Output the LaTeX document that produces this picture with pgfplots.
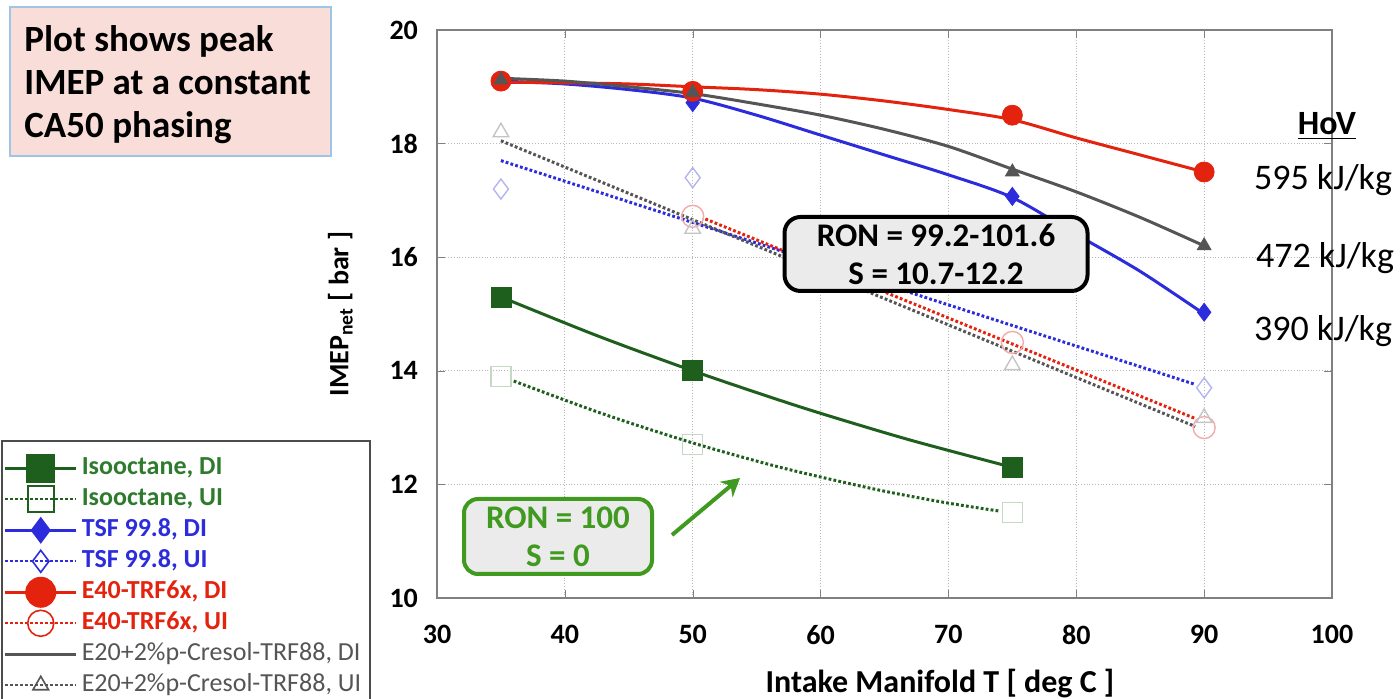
\documentclass[border=0pt]{standalone}
\usepackage{fontspec}
\setmainfont{Carlito}
\usepackage{pgfplots}
\pgfplotsset{compat=1.18}
\usetikzlibrary{arrows.meta}

\definecolor{isogreen}{HTML}{1E5F1E}
\definecolor{isotext}{HTML}{2E7B2E}
\definecolor{tsfblue}{HTML}{2C2CDC}
\definecolor{e40red}{HTML}{E4230F}
\definecolor{e20gray}{HTML}{555555}
\definecolor{lgreen}{HTML}{C4D8C4}
\definecolor{lblue}{HTML}{B4B4F0}
\definecolor{lred}{HTML}{F2AAAA}
\definecolor{lgray}{HTML}{C4C4C4}
\definecolor{annogreen}{HTML}{3F9A1F}
\definecolor{pinkfill}{HTML}{F8DDD8}
\definecolor{boxblue}{HTML}{9DC6E6}
\definecolor{boxgray}{HTML}{EBEBEB}

\tikzset{uidots/.style={line width=1.5pt, dash pattern=on 1.4pt off 1.1pt}}

\begin{document}
\begin{tikzpicture}
\useasboundingbox (0,0) rectangle (700pt,349.5pt);
\begin{axis}[
  at={(218.5pt,50.5pt)}, anchor=south west,
  scale only axis, width=447.5pt, height=284pt,
  xmin=30, xmax=100, ymin=10, ymax=20,
  xtick={30,40,...,100}, ytick={10,12,...,20},
  grid=major, major grid style={densely dotted, black!28},
  axis line style={black!50, line width=0.6pt},
  tick style={black!50}, tick align=inside, major tick length=4pt,
  /pgf/number format/assume math mode=true,
  tick label style={font=\fontsize{14}{16}\selectfont\bfseries},
  xticklabel style={yshift=-10pt},
  yticklabel style={xshift=-6pt},
  xlabel={Intake Manifold T [ deg C ]},
  ylabel={IMEP\textsubscript{net} [ bar ]},
  xlabel style={font=\fontsize{16}{18}\selectfont\bfseries, at={(axis description cs:0.562,-0.150)}, anchor=center},
  ylabel style={font=\fontsize{14}{16}\selectfont\bfseries, at={(axis description cs:-0.108,0.5)}, anchor=center},
  clip=false,
  legend cell align=left,
  legend style={at={(axis description cs:-0.4872,0.2782)}, anchor=north west,
    draw=black!70, line width=0.8pt, inner xsep=1.5pt, inner ysep=7.5pt, row sep=3pt,
    font=\fontsize{13}{15}\selectfont,
    nodes={inner ysep=0pt, inner xsep=3pt, text height=9.5pt, text depth=3pt}},
  legend image code/.code={%
    \path[draw=none, fill=none] (-1.5pt,-6pt) rectangle (34pt,6pt);
    \draw[overlay,mark repeat=2,mark phase=2,#1] plot coordinates {(-1.5pt,0pt) (16.5pt,0pt) (34pt,0pt)};},
]
% legend entries
\addlegendimage{isogreen, line width=1.5pt, mark=square*, mark size=6.5pt}
\addlegendentry[text=isotext, font=\fontsize{13}{15}\selectfont\bfseries]{Isooctane, DI}
\addlegendimage{isogreen, uidots, line width=1.2pt, mark=square, mark size=6.5pt, mark options={solid, fill=white, line width=0.8pt}}
\addlegendentry[text=isotext, font=\fontsize{13}{15}\selectfont\bfseries]{Isooctane, UI}
\addlegendimage{tsfblue, line width=1.5pt, mark=diamond*, mark size=5.5pt}
\addlegendentry[text=tsfblue, font=\fontsize{13}{15}\selectfont\bfseries]{TSF 99.8, DI}
\addlegendimage{tsfblue, uidots, line width=1.2pt, mark=diamond, mark size=5.5pt, mark options={solid, fill=white, line width=0.8pt}}
\addlegendentry[text=tsfblue, font=\fontsize{13}{15}\selectfont\bfseries]{TSF 99.8, UI}
\addlegendimage{e40red, line width=1.5pt, mark=*, mark size=7pt}
\addlegendentry[text=e40red, font=\fontsize{13}{15}\selectfont\bfseries]{E40-TRF6x, DI}
\addlegendimage{e40red, uidots, line width=1.2pt, mark=o, mark size=6.5pt, mark options={solid, fill=white, line width=0.8pt}}
\addlegendentry[text=e40red, font=\fontsize{13}{15}\selectfont\bfseries]{E40-TRF6x, UI}
\addlegendimage{e20gray, line width=1.5pt}
\addlegendentry[text=e20gray]{E20+2\%p-Cresol-TRF88, DI}
\addlegendimage{e20gray, uidots, line width=1.2pt, mark=triangle, mark size=4.5pt, mark options={solid, fill=white, line width=0.8pt}}
\addlegendentry[text=e20gray]{E20+2\%p-Cresol-TRF88, UI}

% trend lines
\addplot[isogreen, line width=1.5pt, smooth, forget plot] coordinates
  {(35,15.3) (42.5,14.62) (50,14.0) (57.5,13.43) (62.5,13.08) (67.5,12.75) (75,12.3)};
\addplot[isogreen, uidots, smooth, forget plot] coordinates
  {(36,13.82) (43,13.24) (50,12.73) (56,12.35) (60,12.13) (65,11.88) (70,11.67) (74,11.53)};
\addplot[tsfblue, line width=1.5pt, smooth, forget plot] coordinates
  {(35,19.1) (40,19.05) (45,18.95) (50,18.8) (55,18.5) (60,18.15) (65,17.8) (70,17.45) (75,17.05) (80,16.4) (85,15.75) (90,15.0)};
\addplot[tsfblue, uidots, forget plot] coordinates
  {(35,17.7) (89.3,13.76)};
\addplot[e20gray, uidots, forget plot] coordinates
  {(35,18.05) (89.3,13.02)};
\addplot[e40red, uidots, dash phase=1.2pt, forget plot] coordinates
  {(50.8,16.69) (89.3,13.16)};
\addplot[e40red, line width=1.5pt, smooth, forget plot] coordinates
  {(35,19.08) (40,19.07) (45,19.05) (50,19.0) (55,18.95) (60,18.87) (65,18.75) (70,18.6) (75,18.42) (80,18.1) (85,17.8) (90,17.5)};
\addplot[e20gray, line width=1.5pt, smooth, forget plot] coordinates
  {(35,19.15) (40,19.1) (45,19.0) (50,18.88) (55,18.7) (60,18.5) (65,18.25) (70,17.95) (75,17.55) (80,17.15) (85,16.7) (90,16.2)};

% measured points
\addplot[only marks, mark=square*, mark size=5pt, isogreen, forget plot] coordinates
  {(35,15.3) (50,14.0) (75,12.3)};
\addplot[only marks, mark=square, mark size=5pt, lgreen, mark options={fill=white, line width=0.7pt}, forget plot] coordinates
  {(35,13.9) (50,12.7) (75,11.5)};
\addplot[only marks, mark=diamond*, mark size=4.5pt, tsfblue, forget plot] coordinates
  {(35,19.1) (50,18.72) (75,17.07) (90,15.03)};
\addplot[only marks, mark=diamond, mark size=5pt, lblue, mark options={line width=0.7pt}, forget plot] coordinates
  {(35,17.2) (50,17.4) (90,13.7)};
\addplot[only marks, mark=*, mark size=5pt, e40red, forget plot] coordinates
  {(35,19.1) (50,18.92) (75,18.5) (90,17.5)};
\addplot[only marks, mark=o, mark size=5.5pt, lred, mark options={line width=0.7pt}, forget plot] coordinates
  {(50,16.72) (75,14.5) (90,13.0)};
\addplot[only marks, mark=triangle*, mark size=4pt, e20gray, forget plot] coordinates
  {(35,19.12) (50,18.9) (75,17.5) (90,16.2)};
\addplot[only marks, mark=triangle, mark size=4.5pt, lgray, mark options={line width=0.7pt}, forget plot] coordinates
  {(35,18.2) (50,16.5) (75,14.1) (90,13.17)};
\end{axis}

% annotations
\node[draw=boxblue, line width=1pt, fill=pinkfill, minimum width=160.5pt, minimum height=74.5pt,
  anchor=north west, inner sep=0pt] at (4.5pt,346.5pt) {};
\begin{scope}[every node/.style={anchor=base west, inner sep=0pt, font=\fontsize{18.5}{21}\selectfont\bfseries}]
\node at (12pt,323.5pt) {Plot shows peak};
\node at (12pt,302pt) {IMEP at a constant};
\node at (12pt,280.5pt) {CA50 phasing};
\end{scope}

\node[draw=black, line width=2pt, rounded corners=8pt, fill=boxgray, minimum width=151.5pt,
  minimum height=37pt, align=center, inner sep=0pt,
  font=\fontsize{16.5}{19}\selectfont\bfseries] at (468pt,222.5pt) {RON = 99.2-101.6\\S = 10.7-12.2};

\node[draw=annogreen, line width=2pt, rounded corners=7pt, fill=boxgray, minimum width=94pt,
  minimum height=37.5pt, align=center, inner sep=0pt, text=annogreen,
  font=\fontsize{16.5}{19}\selectfont\bfseries] at (279pt,81.25pt) {RON = 100\\S = 0};
\draw[annogreen, line width=2pt, -{Stealth[length=9pt,width=10pt]}] (336pt,82pt) -- (370pt,110.5pt);

\node[font=\fontsize{17}{20}\selectfont\bfseries] at (663.5pt,286.5pt) {\underline{HoV}};
\node[font=\fontsize{18}{20}\selectfont] at (661.5pt,259.5pt) {595 kJ/kg};
\node[font=\fontsize{18}{20}\selectfont] at (662.5pt,220.5pt) {472 kJ/kg};
\node[font=\fontsize{18}{20}\selectfont] at (661.5pt,184pt) {390 kJ/kg};
\end{tikzpicture}
\end{document}
